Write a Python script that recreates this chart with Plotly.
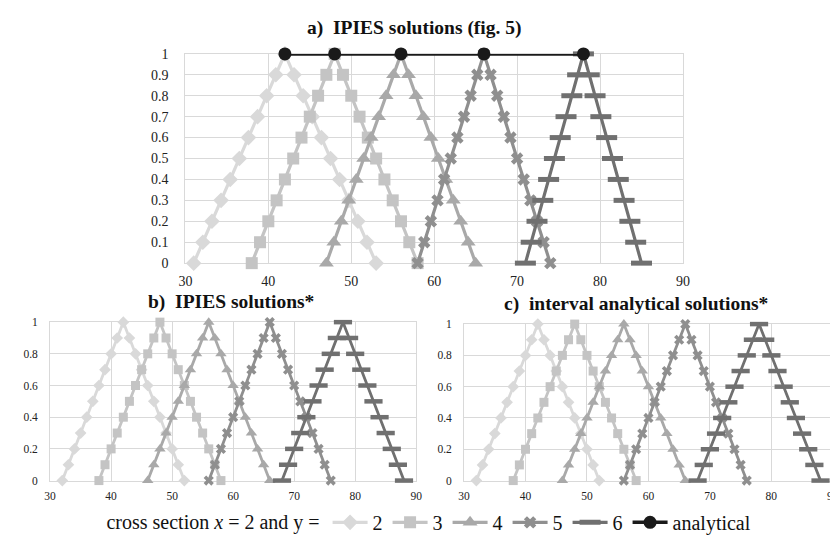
import plotly.graph_objects as go

# ---- data ----
y_levels = [0, 0.1, 0.2, 0.3, 0.4, 0.5, 0.6, 0.7, 0.8, 0.9, 1,
            0.9, 0.8, 0.7, 0.6, 0.5, 0.4, 0.3, 0.2, 0.1, 0]

# a) IPIES solutions (fig. 5)
a_y2 = [31, 32.1, 33.2, 34.3, 35.4, 36.5, 37.6, 38.7, 39.8, 40.9, 42,
        43.1, 44.2, 45.3, 46.4, 47.5, 48.6, 49.7, 50.8, 51.9, 53]
a_y3 = [38, 39, 40, 41, 42, 43, 44, 45, 46, 47, 48,
        49, 50, 51, 52, 53, 54, 55, 56, 57, 58]
a_y4 = [47, 47.9, 48.8, 49.7, 50.6, 51.5, 52.4, 53.3, 54.2, 55.1, 56,
        56.9, 57.8, 58.7, 59.6, 60.5, 61.4, 62.3, 63.2, 64.1, 65]
a_y5 = [58, 58.8, 59.6, 60.4, 61.2, 62, 62.8, 63.6, 64.4, 65.2, 66,
        66.8, 67.6, 68.4, 69.2, 70, 70.8, 71.6, 72.4, 73.2, 74]
a_y6 = [71, 71.7, 72.4, 73.1, 73.8, 74.5, 75.2, 75.9, 76.6, 77.3, 78,
        78.7, 79.4, 80.1, 80.8, 81.5, 82.2, 82.9, 83.6, 84.3, 85]
analytical_x = [42, 48, 56, 66, 78]
analytical_y = [1, 1, 1, 1, 1]

# b) IPIES solutions*  and  c) interval analytical solutions*
b_y2 = [32, 33, 34, 35, 36, 37, 38, 39, 40, 41, 42,
        43, 44, 45, 46, 47, 48, 49, 50, 51, 52]
b_y3 = [38, 39, 40, 41, 42, 43, 44, 45, 46, 47, 48,
        49, 50, 51, 52, 53, 54, 55, 56, 57, 58]
b_y4 = [46, 47, 48, 49, 50, 51, 52, 53, 54, 55, 56,
        57, 58, 59, 60, 61, 62, 63, 64, 65, 66]
b_y5 = [56, 57, 58, 59, 60, 61, 62, 63, 64, 65, 66,
        67, 68, 69, 70, 71, 72, 73, 74, 75, 76]
b_y6 = [68, 69, 70, 71, 72, 73, 74, 75, 76, 77, 78,
        79, 80, 81, 82, 83, 84, 85, 86, 87, 88]
c_y2 = [32, 33, 34, 35, 36, 37, 38, 39, 40, 41, 42,
        43, 44, 45, 46, 47, 48, 49, 50, 51, 52]
c_y3 = [38, 39, 40, 41, 42, 43, 44, 45, 46, 47, 48,
        49, 50, 51, 52, 53, 54, 55, 56, 57, 58]
c_y4 = [46, 47, 48, 49, 50, 51, 52, 53, 54, 55, 56,
        57, 58, 59, 60, 61, 62, 63, 64, 65, 66]
c_y5 = [56, 57, 58, 59, 60, 61, 62, 63, 64, 65, 66,
        67, 68, 69, 70, 71, 72, 73, 74, 75, 76]
c_y6 = [68, 69, 70, 71, 72, 73, 74, 75, 76, 77, 78,
        79, 80, 81, 82, 83, 84, 85, 86, 87, 88]

series_names = ["2", "3", "4", "5", "6"]
titles = ["a)  IPIES solutions (fig. 5)", "b)  IPIES solutions*", "c)  interval analytical solutions*"]

# ---- styles ----
colors = ["#d9d9d9", "#c4c4c4", "#a9a9a9", "#8f8f8f", "#707070"]
symbols = ["diamond", "square", "triangle-up", "x", "line-ew"]
big_sizes = [12, 12, 13, 11, 15]
small_sizes = [9, 9, 10, 9, 13]
W, H = 838, 535
FONT = "Liberation Serif"

fig = go.Figure()

def add_set(xs_list, xa, ya, sizes, lw, show):
    for i, xs in enumerate(xs_list):
        sym = symbols[i]
        if sym == "line-ew":
            marker = dict(symbol=sym, size=sizes[i], color=colors[i],
                          line=dict(color=colors[i], width=5 if show else 4.5))
        else:
            marker = dict(symbol=sym, size=sizes[i], color=colors[i],
                          line=dict(width=0))
        fig.add_trace(go.Scatter(
            x=xs, y=y_levels, mode="lines+markers", name=series_names[i],
            line=dict(color=colors[i], width=lw), marker=marker,
            xaxis=xa, yaxis=ya, showlegend=show, cliponaxis=False))

add_set([a_y2, a_y3, a_y4, a_y5, a_y6], "x", "y", big_sizes, 3.2, True)
fig.add_trace(go.Scatter(
    x=analytical_x, y=analytical_y, mode="lines+markers", name="analytical",
    line=dict(color="#1a1a1a", width=3.5),
    marker=dict(symbol="circle", size=13, color="#1a1a1a"),
    xaxis="x", yaxis="y", showlegend=True, cliponaxis=False))
add_set([b_y2, b_y3, b_y4, b_y5, b_y6], "x2", "y2", small_sizes, 2.8, False)
add_set([c_y2, c_y3, c_y4, c_y5, c_y6], "x3", "y3", small_sizes, 2.8, False)

def px_x(a, b):
    return [a / W, b / W]

def px_y(top, bottom):
    return [1 - bottom / H, 1 - top / H]

grid = "#d9d9d9"
def xax(dom, anchor, fs, standoff):
    return dict(domain=dom, anchor=anchor, range=[30, 90], dtick=10, tick0=30,
                showgrid=True, gridcolor=grid, gridwidth=1, zeroline=False,
                showline=True, linecolor=grid, linewidth=1, mirror=True,
                layer="below traces",
                ticks="", ticklabelstandoff=standoff,
                tickfont=dict(family=FONT, size=fs, color="#222222"))

def yax(dom, anchor, dt, fs, standoff):
    return dict(domain=dom, anchor=anchor, range=[0, 1], dtick=dt, tick0=0,
                showgrid=True, gridcolor=grid, gridwidth=1, zeroline=False,
                showline=True, linecolor=grid, linewidth=1, mirror=True,
                layer="below traces",
                ticks="", ticklabelstandoff=standoff,
                tickfont=dict(family=FONT, size=fs, color="#222222"))

fig.update_layout(
    width=W, height=H,
    margin=dict(l=0, r=0, t=0, b=0),
    paper_bgcolor="white", plot_bgcolor="white",
    font=dict(family=FONT),
    xaxis=xax(px_x(173.3, 679.3), "y", 14, 5),
    yaxis=yax(px_y(40, 255.3), "x", 0.1, 14, 13),
    xaxis2=xax(px_x(35.7, 408), "y2", 11.5, 5),
    yaxis2=yax(px_y(316, 479), "x2", 0.2, 11.5, 9),
    xaxis3=xax(px_x(456.7, 831.7), "y3", 11.5, 5),
    yaxis3=yax(px_y(318, 479), "x3", 0.2, 11.5, 9),
    showlegend=True,
    legend=dict(orientation="h", x=91 / W, xanchor="left", y=1 - 522 / H,
                yanchor="middle", font=dict(family=FONT, size=20, color="#111111"),
                title=dict(text="cross section <i>x</i> = 2 and y =", side="left",
                           font=dict(family=FONT, size=20, color="#111111")),
                itemwidth=35, tracegroupgap=0, bgcolor="rgba(0,0,0,0)"),
)

title_pos = [(406, 13), (220, 295), (632, 297)]
for t, (xp, yp) in zip(titles, title_pos):
    fig.add_annotation(text="<b>" + t + "</b>", x=xp / W, y=1 - yp / H,
                       xref="paper", yref="paper", xanchor="center", yanchor="middle",
                       showarrow=False, font=dict(family=FONT, size=19.5, color="#111111"))

fig.write_html("out.html")
